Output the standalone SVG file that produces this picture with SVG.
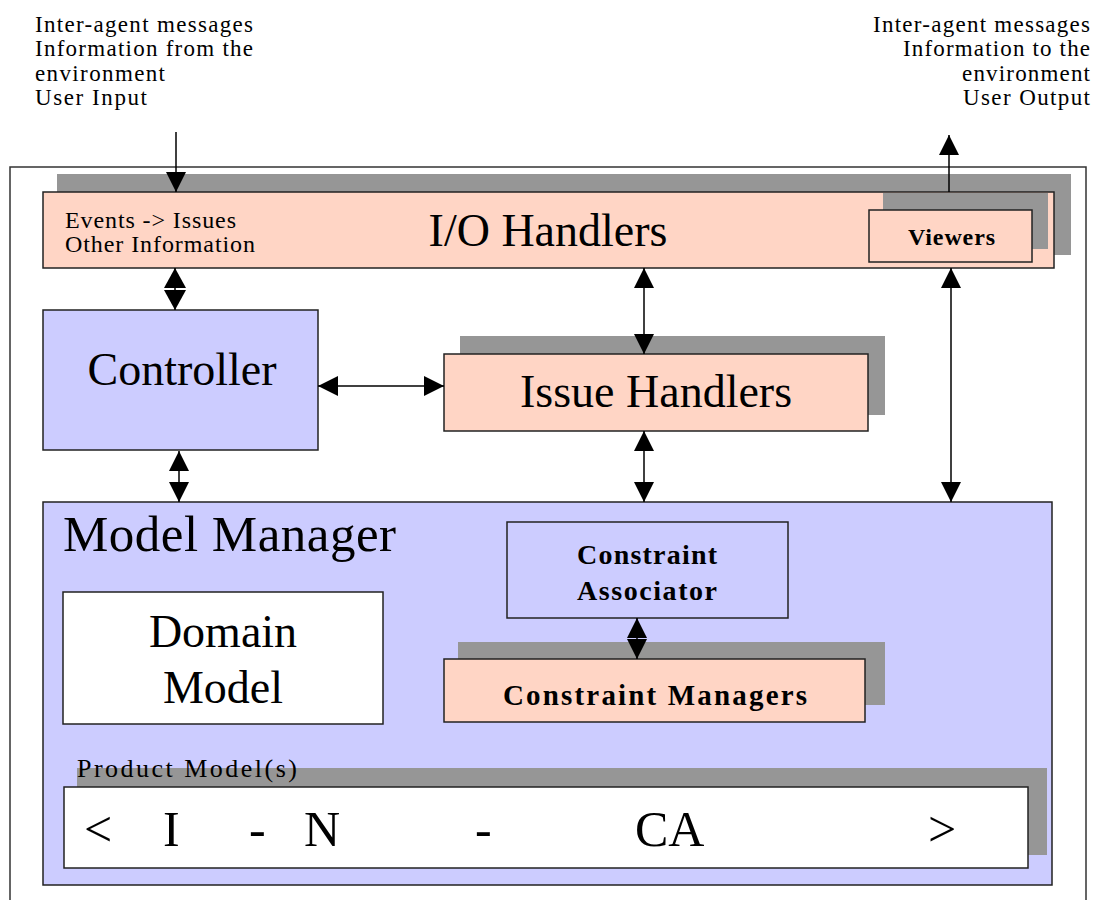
<svg xmlns="http://www.w3.org/2000/svg" width="1096" height="900" viewBox="0 0 1096 900">
<defs>
<style>
.t{font-family:"Liberation Serif","Times New Roman",serif;fill:#000}
.sm{font-size:23px}
.big{font-size:46px;text-anchor:middle}
.bold{font-weight:bold}
.box{stroke:#222;stroke-width:1.5}
.pink{fill:#FFD5C5}
.lav{fill:#CCCCFF}
.wht{fill:#FFFFFF}
.shd{fill:#969696}
.ln{stroke:#000;stroke-width:1.5;fill:none}
</style>
<marker id="ah" viewBox="0 0 20 20" refX="20" refY="10" markerWidth="20" markerHeight="20" markerUnits="userSpaceOnUse" orient="auto-start-reverse">
<path d="M0,0 L20,10 L0,20 Z" fill="#000"/>
</marker>
<marker id="dm" viewBox="0 0 20 22" refX="20" refY="11" markerWidth="20" markerHeight="22" markerUnits="userSpaceOnUse" orient="auto-start-reverse">
<path d="M0,0 L20,11 L0,22 Z" fill="#000"/>
</marker>
</defs>
<rect width="1096" height="900" fill="#fff"/>

<g id="input-label">
<text class="t sm" x="35" y="32" textLength="218" lengthAdjust="spacing">Inter-agent messages</text>
<text class="t sm" x="35" y="56" textLength="218" lengthAdjust="spacing">Information from the</text>
<text class="t sm" x="35" y="81" textLength="130" lengthAdjust="spacing">environment</text>
<text class="t sm" x="35" y="105" textLength="112" lengthAdjust="spacing">User Input</text>
</g>
<g id="output-label">
<text class="t sm" x="873" y="32" textLength="217" lengthAdjust="spacing">Inter-agent messages</text>
<text class="t sm" x="903" y="56" textLength="187" lengthAdjust="spacing">Information to the</text>
<text class="t sm" x="962" y="81" textLength="128" lengthAdjust="spacing">environment</text>
<text class="t sm" x="963" y="105" textLength="127" lengthAdjust="spacing">User Output</text>
</g>

<g id="agent-boundary">
<path d="M10,905 V167 H1086 V905" fill="none" stroke="#333" stroke-width="1.5"/>
</g>

<g id="io-handlers">
<rect class="shd" x="57" y="174" width="1014" height="81"/>
<rect class="box pink" x="43" y="192" width="1011" height="76"/>
<text class="t" x="65" y="228" font-size="24" textLength="171" lengthAdjust="spacing">Events -&gt; Issues</text>
<text class="t" x="65" y="252" font-size="24" textLength="190" lengthAdjust="spacing">Other Information</text>
<text class="t big" x="548" y="246">I/O Handlers</text>
</g>

<g id="viewers">
<rect class="shd" x="883" y="193" width="165" height="56"/>
<rect class="box pink" x="869" y="210" width="163" height="52"/>
<text class="t bold" x="908" y="245" font-size="24" textLength="87" lengthAdjust="spacing">Viewers</text>
</g>

<g id="controller">
<rect class="box lav" x="43" y="310" width="275" height="140"/>
<text class="t big" x="182" y="385">Controller</text>
</g>

<g id="issue-handlers">
<rect class="shd" x="460" y="336" width="425" height="79"/>
<rect class="box pink" x="444" y="354" width="424" height="77"/>
<text class="t big" x="656" y="407">Issue Handlers</text>
</g>

<g id="model-manager">
<rect class="box lav" x="43" y="502" width="1009" height="383"/>
<text class="t" x="63" y="551" font-size="51" textLength="333" lengthAdjust="spacing">Model Manager</text>
</g>

<g id="domain-model">
<rect class="box wht" x="63" y="592" width="320" height="132"/>
<text class="t big" x="223" y="647">Domain</text>
<text class="t big" x="223" y="703">Model</text>
</g>

<g id="constraint-associator">
<rect class="box lav" x="507" y="522" width="281" height="96"/>
<text class="t bold" x="577" y="564" font-size="28" textLength="140" lengthAdjust="spacing">Constraint</text>
<text class="t bold" x="577" y="600" font-size="28" textLength="140" lengthAdjust="spacing">Associator</text>
</g>

<g id="constraint-managers">
<rect class="shd" x="458" y="642" width="427" height="63"/>
<rect class="box pink" x="444" y="659" width="421" height="63"/>
<text class="t bold" x="503" y="705" font-size="29" textLength="304" lengthAdjust="spacing">Constraint Managers</text>
</g>

<g id="product-models">
<rect class="shd" x="77" y="768" width="970" height="87"/>
<text class="t" x="77" y="777" font-size="26" textLength="220" lengthAdjust="spacing">Product Model(s)</text>
<rect class="box wht" x="64" y="787" width="964" height="81"/>
<text class="t" y="846" font-size="50"><tspan x="84">&lt;</tspan><tspan x="163">I</tspan><tspan x="249">-</tspan><tspan x="304">N</tspan><tspan x="475">-</tspan><tspan x="635">CA</tspan><tspan x="928">&gt;</tspan></text>
</g>

<g id="connectors">
<line class="ln" x1="176" y1="132" x2="176" y2="192" marker-end="url(#ah)"/>
<line class="ln" x1="949" y1="192" x2="949" y2="135" marker-end="url(#ah)"/>
<line class="ln" x1="175" y1="268" x2="175" y2="310" marker-start="url(#dm)" marker-end="url(#dm)"/>
<line class="ln" x1="179" y1="451" x2="179" y2="502" marker-start="url(#ah)" marker-end="url(#ah)"/>
<line class="ln" x1="318" y1="386" x2="444" y2="386" marker-start="url(#ah)" marker-end="url(#ah)"/>
<line class="ln" x1="644" y1="268" x2="644" y2="354" marker-start="url(#ah)" marker-end="url(#ah)"/>
<line class="ln" x1="644" y1="431" x2="644" y2="502" marker-start="url(#ah)" marker-end="url(#ah)"/>
<line class="ln" x1="951" y1="268" x2="951" y2="502" marker-start="url(#ah)" marker-end="url(#ah)"/>
<line class="ln" x1="637" y1="618" x2="637" y2="659" marker-start="url(#ah)" marker-end="url(#ah)"/>
</g>
</svg>
